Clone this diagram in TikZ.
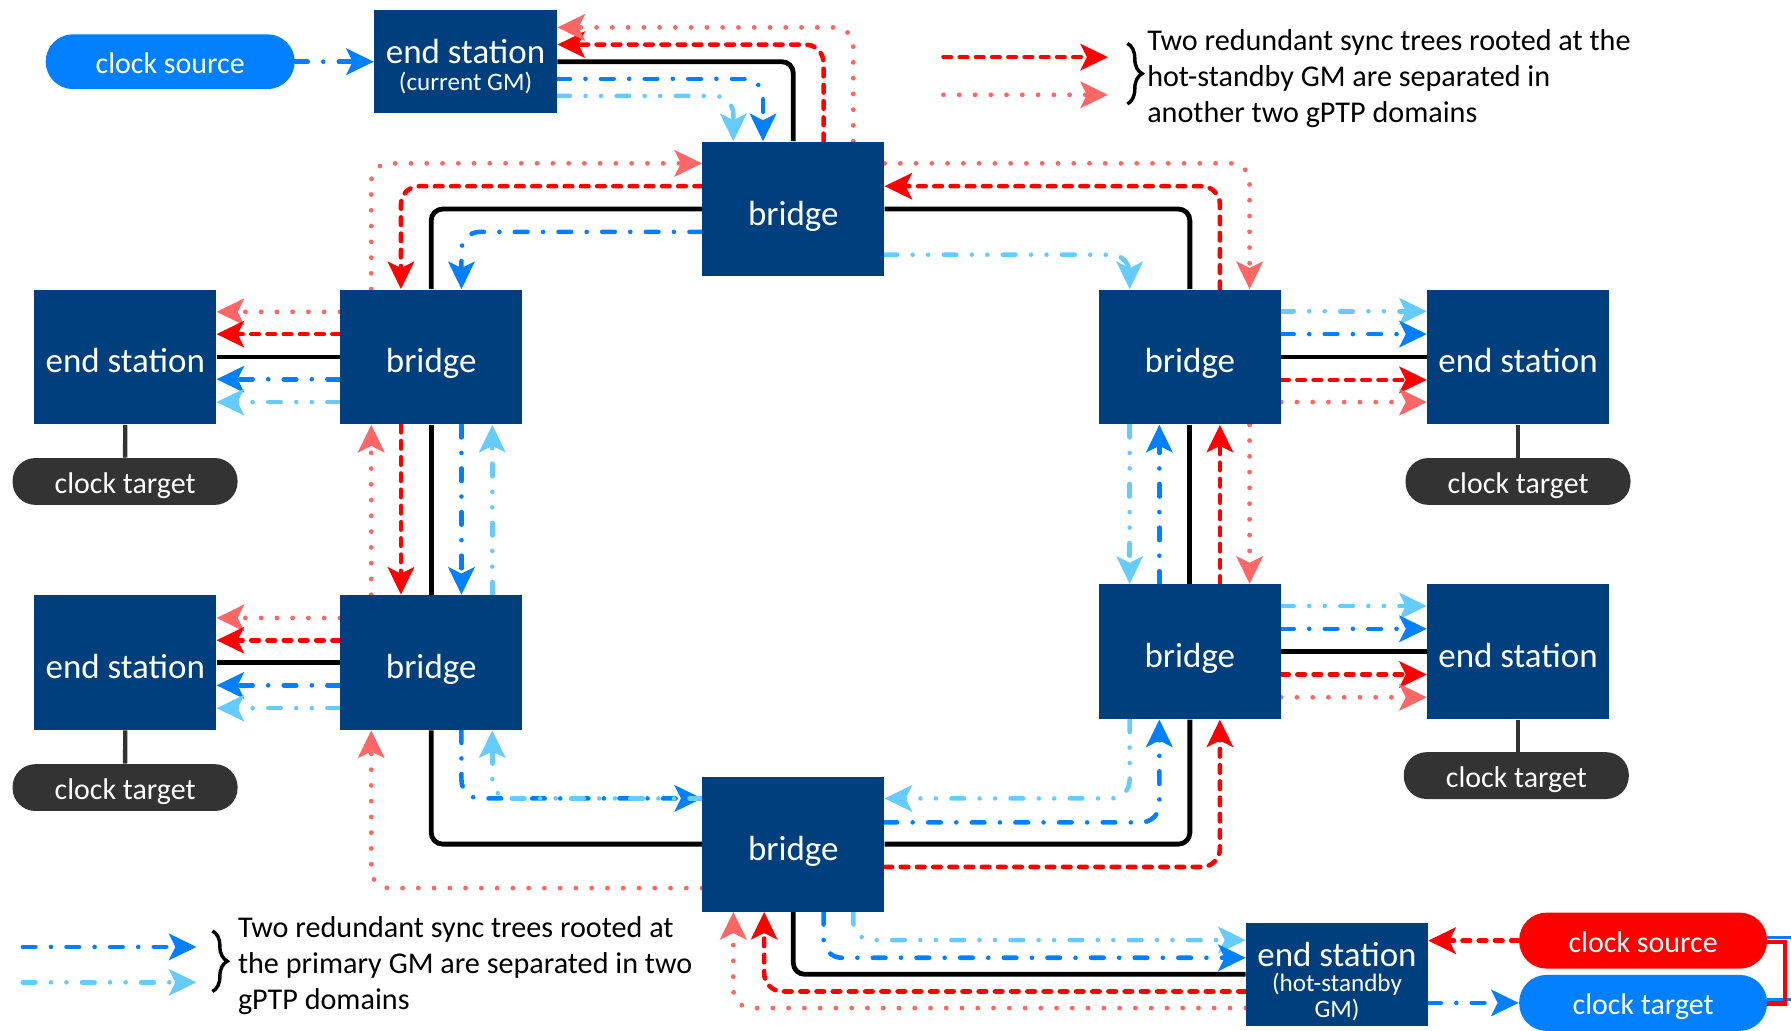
\documentclass[tikz,border=0pt]{standalone}
\usepackage{fontspec}
\setmainfont{Carlito}
\usetikzlibrary{arrows.meta,decorations.pathreplacing,calc}
\pgfdeclarelayer{bg}
\pgfsetlayers{bg,main}
\definecolor{navy}{RGB}{0,63,125}
\definecolor{cblue}{RGB}{0,128,255}
\definecolor{lblue}{RGB}{102,204,255}
\definecolor{cred}{RGB}{255,0,0}
\definecolor{lred}{RGB}{255,102,102}
\definecolor{dgray}{RGB}{51,51,51}
\tikzset{
  box/.style={fill=navy, text=white, minimum width=79.5pt, minimum height=59pt, inner sep=0pt, text height=14pt, text depth=0pt, font=\fontsize{15.3}{18}\selectfont},
  gmbox/.style={fill=navy, minimum width=80pt, minimum height=45pt, inner sep=0pt},
  boxtxt/.style={text=white, inner sep=0pt, font=\fontsize{15.3}{18}\selectfont},
  subtxt/.style={text=white, inner sep=0pt, font=\fontsize{11}{13}\selectfont},
  pill/.style={text=white, inner sep=0pt, text height=10.5pt, text depth=0pt, font=\fontsize{13.1}{15}\selectfont},
  ctpill/.style={pill, fill=dgray, minimum width=98.5pt, minimum height=20.5pt, rounded corners=10pt},
  bigpill/.style={pill, minimum width=108.5pt, minimum height=24.5pt, rounded corners=12pt},
  legtxt/.style={inner sep=0pt, align=left, font=\fontsize{13.2}{15.75}\selectfont},
  link/.style={line width=2.1pt, black, rounded corners=5pt},
  stem/.style={line width=1.9pt, dgray},
  arrowhd/.style={-{Stealth[length=12pt,width=11.5pt,inset=2.8pt]}},
  pblue/.style={arrowhd, cblue, line width=2pt, line cap=round, dash pattern=on 5.5pt off 6.8pt on 0pt off 6.8pt, rounded corners=8pt},
  plblue/.style={arrowhd, lblue, line width=2pt, line cap=round, dash pattern=on 5.5pt off 6.8pt on 0pt off 6.8pt on 0pt off 6.8pt, rounded corners=8pt},
  pred/.style={arrowhd, cred, line width=2pt, line cap=round, dash pattern=on 3.3pt off 3.8pt, rounded corners=8pt},
  plred/.style={arrowhd, lred, line width=2.1pt, line cap=round, dash pattern=on 0pt off 6.9pt, rounded corners=8pt},
  bracestyle/.style={decorate, decoration={brace, amplitude=6.5pt}, line width=1.5pt, black}
}
\begin{document}
\begin{tikzpicture}[x=0.5pt,y=-0.5pt]
\useasboundingbox (0,0) rectangle (1568,902);
% ---------- nodes ----------
\node[bigpill, fill=cblue, minimum width=109pt, minimum height=24pt] (csrc) at (149,54) {clock source};
\node[gmbox] (gm) at (407.6,54) {};
\node[boxtxt] (gmt) at (407.6,45) {end station};
\node[subtxt] (gms) at (407.6,73) {(current GM)};
\node[box] (tb) at (694.5,183) {bridge};
\node[box] (bl1) at (377.5,312.5) {bridge};
\node[box] (bl2) at (377.5,580) {bridge};
\node[box] (br1) at (1041.7,312.5) {bridge};
\node[box] (br2) at (1041.7,570.5) {bridge};
\node[box] (bb) at (694.5,739) {bridge};
\node[box] (esl1) at (109.7,312.5) {end station};
\node[box] (esl2) at (109.7,580) {end station};
\node[box] (esr1) at (1329,312.5) {end station};
\node[box] (esr2) at (1329,570.5) {end station};
\node[ctpill] (ctl1) at (109.5,421.5) {clock target};
\node[ctpill] (ctl2) at (109.5,689.5) {clock target};
\node[ctpill] (ctr1) at (1329,421.5) {clock target};
\node[ctpill] (ctr2) at (1327.5,679) {clock target};
\node[gmbox, minimum width=79.5pt] (hs) at (1170.5,853) {};
\node[boxtxt] (hst) at (1170.5,836) {end station};
\node[subtxt] (hss1) at (1170.5,862) {(hot-standby};
\node[subtxt] (hss2) at (1170.5,884) {GM)};
\node[bigpill, fill=cred] (csrc2) at (1438.5,823.5) {clock source};
\node[bigpill, fill=cblue] (ctgt) at (1438.5,878) {clock target};
% legend
\coordinate (k1s) at (826,50); \coordinate (k1e) at (970,50);
\coordinate (k2s) at (826,83); \coordinate (k2e) at (970,83);
\coordinate (k3s) at (20,829); \coordinate (k3e) at (172,829);
\coordinate (k4s) at (20,860); \coordinate (k4e) at (172,860);
\coordinate (bt1) at (987,38); \coordinate (bt2) at (987,91);
\coordinate (bb1) at (186,815); \coordinate (bb2) at (186,868);
\node[legtxt, anchor=west] (lgt) at (1004,68.5) {Two redundant sync trees rooted at the\\hot-standby GM are separated in\\another two gPTP domains};
\node[legtxt, anchor=west] (lgb) at (208,845.5) {Two redundant sync trees rooted at\\the primary GM are separated in two\\gPTP domains};
\draw[pred] (k1s) -- (k1e);
\draw[plred] (k2s) -- (k2e);
\draw[pblue] (k3s) -- (k3e);
\draw[plblue] (k4s) -- (k4e);
\draw[bracestyle] (bt1) -- (bt2);
\draw[bracestyle] (bb1) -- (bb2);
% ---------- connectors ----------
\begin{pgfonlayer}{bg}
% physical links
\draw[link] (gm.east) -| (tb.north);
\draw[link] (tb.west) -| (bl1.north);
\draw[link] (tb.east) -| (br1.north);
\draw[link] (bl1.south) -- (bl2.north);
\draw[link] (br1.south) -- (br2.north);
\draw[link] (bl2.south) |- (bb.west);
\draw[link] (br2.south) |- (bb.east);
\draw[link] (bb.south) |- (hs.west);
\draw[link] (bl1.west) -- (esl1.east);
\draw[link] (bl2.west) -- (esl2.east);
\draw[link] (br1.east) -- (esr1.west);
\draw[link] (br2.east) -- (esr2.west);
\draw[stem] (esl1.south) -- (ctl1.north);
\draw[stem] (esl2.south) -- (ctl2.north);
\draw[stem] (esr1.south) -- (ctr1.north);
\draw[stem] (esr2.south) -- (esr2.south |- ctr2.north);
% clock source -> GM
\draw[pblue] (csrc.east) -- (gm.west);
% GM <-> top bridge
\draw[pblue] (gm.east |- 0,69) -| (668,0 |- tb.north);
\draw[plblue] (gm.east |- 0,84) -| (642,0 |- tb.north);
\draw[pred] (721,0 |- tb.north) |- (gm.east |- 0,39);
\draw[plred] (747,0 |- tb.north) |- (gm.east |- 0,24);
% top bridge left
\draw[pblue] (tb.west |- 0,203) -| (404,0 |- bl1.north);
\draw[pred] (tb.west |- 0,163) -| (351,0 |- bl1.north);
\draw[plred] (325,0 |- bl1.north) |- (tb.west |- 0,143);
% top bridge right
\draw[plblue] (tb.east |- 0,223) -| (989,0 |- br1.north);
\draw[pred] (1068,0 |- br1.north) |- (tb.east |- 0,163);
\draw[plred] (tb.east |- 0,143) -| (1094,0 |- br1.north);
% left column
\draw[plred] (325,0 |- bl2.north) -- (325,0 |- bl1.south);
\draw[pred] (351,0 |- bl1.south) -- (351,0 |- bl2.north);
\draw[pblue] (404,0 |- bl1.south) -- (404,0 |- bl2.north);
\draw[plblue] (431,0 |- bl2.north) -- (431,0 |- bl1.south);
% right column
\draw[plblue] (989,0 |- br1.south) -- (989,0 |- br2.north);
\draw[pblue] (1015,0 |- br2.north) -- (1015,0 |- br1.south);
\draw[pred] (1068,0 |- br2.north) -- (1068,0 |- br1.south);
\draw[plred] (1094,0 |- br1.south) -- (1094,0 |- br2.north);
% bridges -> end stations (left)
\draw[plred] (bl1.west |- 0,273) -- (esl1.east |- 0,273);
\draw[pred] (bl1.west |- 0,292.5) -- (esl1.east |- 0,292.5);
\draw[pblue] (bl1.west |- 0,332) -- (esl1.east |- 0,332);
\draw[plblue] (bl1.west |- 0,352) -- (esl1.east |- 0,352);
\draw[plred] (bl2.west |- 0,541) -- (esl2.east |- 0,541);
\draw[pred] (bl2.west |- 0,560.5) -- (esl2.east |- 0,560.5);
\draw[pblue] (bl2.west |- 0,600) -- (esl2.east |- 0,600);
\draw[plblue] (bl2.west |- 0,620) -- (esl2.east |- 0,620);
% bridges -> end stations (right)
\draw[plblue] (br1.east |- 0,272.5) -- (esr1.west |- 0,272.5);
\draw[pblue] (br1.east |- 0,292.5) -- (esr1.west |- 0,292.5);
\draw[pred] (br1.east |- 0,332.5) -- (esr1.west |- 0,332.5);
\draw[plred] (br1.east |- 0,352) -- (esr1.west |- 0,352);
\draw[plblue] (br2.east |- 0,530.5) -- (esr2.west |- 0,530.5);
\draw[pblue] (br2.east |- 0,550.5) -- (esr2.west |- 0,550.5);
\draw[pred] (br2.east |- 0,590.5) -- (esr2.west |- 0,590.5);
\draw[plred] (br2.east |- 0,610.5) -- (esr2.west |- 0,610.5);
% left-bottom bridge <-> bottom bridge
\draw[pblue] (404,0 |- bl2.south) |- (bb.west |- 0,699);
\draw[plblue] (bb.west |- 0,699) -| (431,0 |- bl2.south);
\draw[plred] (bb.west |- 0,777.5) -| (325,0 |- bl2.south);
% right-bottom bridge <-> bottom bridge
\draw[plblue] (989,0 |- br2.south) |- (bb.east |- 0,699);
\draw[pblue] (bb.east |- 0,720) -| (1015,0 |- br2.south);
\draw[pred] (bb.east |- 0,759) -| (1068,0 |- br2.south);
% bottom bridge <-> hot-standby GM
\draw[plblue] (747,0 |- bb.south) |- (hs.west |- 0,823);
\draw[pblue] (721,0 |- bb.south) |- (hs.west |- 0,838.5);
\draw[pred] (hs.west |- 0,868) -| (669,0 |- bb.south);
\draw[plred] (hs.west |- 0,882.5) -| (642,0 |- bb.south);
% hot-standby GM <-> clock pills
\draw[pred] (csrc2.west) -- (hs.east |- csrc2.west);
\draw[pblue] (hs.east |- ctgt.west) -- (ctgt.west);
% loop between red clock source and blue clock target
\draw[cblue, line width=1.3pt] (csrc2.east |- 0,821) -- (1580,821) |- (ctgt.east |- 0,875);
\draw[cred, line width=1.8pt] (csrc2.east |- 0,824.5) -- (1563,824.5) |- (ctgt.east |- 0,878.5);
\end{pgfonlayer}
\end{tikzpicture}
\end{document}
